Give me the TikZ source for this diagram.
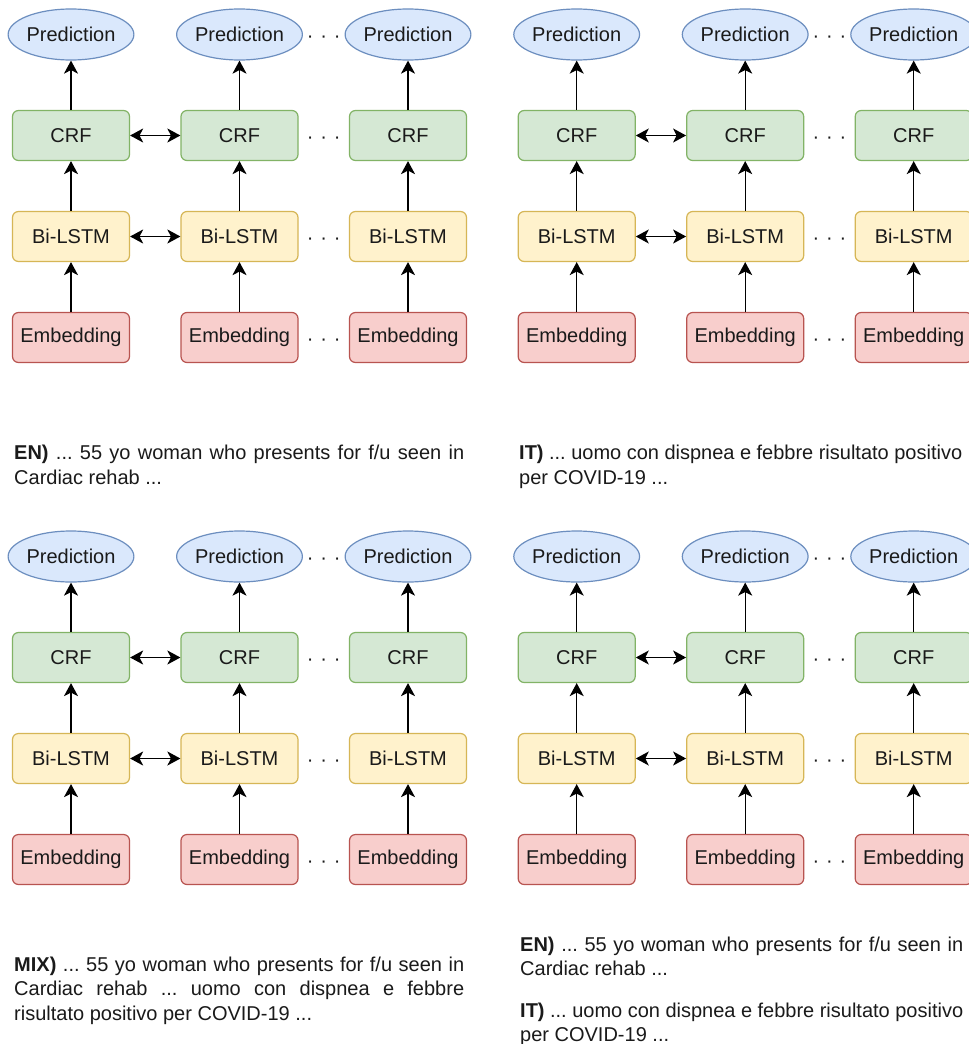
\documentclass[tikz,border=0pt]{standalone}
\usepackage{fontspec}
\setmainfont{Liberation Sans}
\usetikzlibrary{arrows.meta,shapes.geometric}
\frenchspacing

\definecolor{predfill}{HTML}{DAE8FC}
\definecolor{predline}{HTML}{6C8EBF}
\definecolor{crffill}{HTML}{D5E8D4}
\definecolor{crfline}{HTML}{82B366}
\definecolor{lstmfill}{HTML}{FFF2CC}
\definecolor{lstmline}{HTML}{D6B656}
\definecolor{embfill}{HTML}{F8CECC}
\definecolor{embline}{HTML}{B85450}
\definecolor{ink}{HTML}{1A1A1A}

\tikzset{
  x=1pt, y=-1pt,
  label font/.style={font=\fontsize{20}{24}\selectfont, text=ink},
  layerbox/.style={label font, rectangle, rounded corners=6pt, line width=1.2pt,
    minimum width=117pt, minimum height=50pt, inner sep=0pt},
  predbox/.style={label font, ellipse, draw=predline, fill=predfill, line width=1.2pt,
    minimum width=119pt, minimum height=51pt, inner sep=0pt},
  crfbox/.style={layerbox, draw=crfline, fill=crffill},
  lstmbox/.style={layerbox, draw=lstmline, fill=lstmfill},
  embbox/.style={layerbox, draw=embline, fill=embfill},
  flow/.style={line width=1.4pt, -{Stealth[length=13pt,width=14pt,inset=3.5pt]}},
  link/.style={line width=1.4pt, {Stealth[length=13pt,width=14pt,inset=3.5pt]}-{Stealth[length=13pt,width=14pt,inset=3.5pt]}},
  ellipsis/.style={font=\fontsize{20}{24}\selectfont, text=ink, inner sep=0pt, anchor=base},
  caption/.style={font=\fontsize{20}{25}\selectfont, text=ink, inner sep=0pt,
    anchor=base west, align=justify},
}

% One tagging network: three time steps of Embedding -> Bi-LSTM -> CRF -> Prediction
\newcommand\taggerpanel[3]{%
  \begin{scope}[shift={(#2,#3)}]
    \foreach \c/\x in {1/71,2/239.5,3/408}{
      \node[predbox] (#1p\c) at (\x,34.5) {Prediction};
      \node[crfbox]  (#1c\c) at (\x,135.5) {CRF};
      \node[lstmbox] (#1l\c) at (\x,236.5) {Bi-LSTM};
      \node[embbox]  (#1e\c) at (\x,337.5) {Embedding};
      \draw[flow] (#1e\c) -- (#1l\c);
      \draw[flow] (#1l\c) -- (#1c\c);
      \draw[flow] (#1c\c) -- (#1p\c);
    }
    \draw[link] (#1c1) -- (#1c2);
    \draw[link] (#1l1) -- (#1l2);
    \foreach \r/\y in {1/34.5,2/135.5,3/236.5,4/337.5}{
      \node[ellipsis] (#1d\r) at (323.75,\y+8) {·\hspace{6.8pt}·\hspace{6.8pt}·};
    }
  \end{scope}}

\begin{document}
\begin{tikzpicture}
  \useasboundingbox (0,0) rectangle (969,1044);
  \fill[white] (0,0) rectangle (969,1044);

  \taggerpanel{tl}{0}{0}
  \taggerpanel{tr}{505.7}{0}
  \taggerpanel{bl}{0}{522}
  \taggerpanel{br}{505.7}{522}

  \node[caption, text width=450pt] (capen) at (14,459)
    {\textbf{EN)} ... 55 yo woman who presents for f/u seen in\linebreak Cardiac rehab ...};
  \node[caption, text width=443pt] (capit) at (519,459)
    {\textbf{IT)} ... uomo con dispnea e febbre risultato positivo\linebreak per COVID-19 ...};
  \node[caption, text width=450pt, font=\fontsize{20}{24.5}\selectfont] (capmix) at (14,971)
    {\textbf{MIX)} ... 55 yo woman who presents for f/u seen in\linebreak Cardiac rehab ... uomo con dispnea e febbre\linebreak risultato positivo per COVID-19 ...};
  \node[caption, text width=443pt, font=\fontsize{20}{24.5}\selectfont] (capboth1) at (520,951)
    {\textbf{EN)} ... 55 yo woman who presents for f/u seen in\linebreak Cardiac rehab ...};
  \node[caption, text width=443pt, font=\fontsize{20}{24.5}\selectfont] (capboth2) at (520,1017)
    {\textbf{IT)} ... uomo con dispnea e febbre risultato positivo\linebreak per COVID-19 ...};
\end{tikzpicture}
\end{document}
